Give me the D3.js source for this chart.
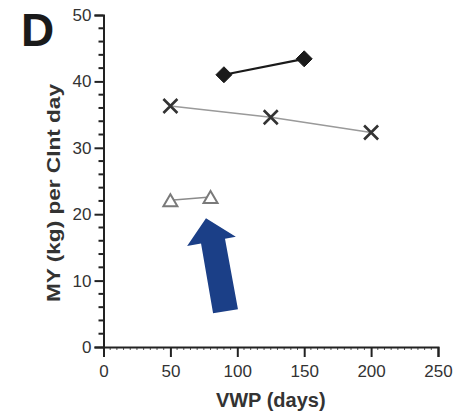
<!DOCTYPE html>
<html>
<head>
<meta charset="utf-8">
<script src="https://cdn.jsdelivr.net/npm/d3@7"></script>
<style>
  html, body { margin: 0; padding: 0; background: white; }
  text { font-family: "Liberation Sans", Arial, sans-serif; }
</style>
</head>
<body>
<div id="chart"></div>
<script>
// values
const diamondVwp = [90, 150];
const diamondMy = [41.0, 43.4];
const crossVwp = [50, 125, 200];
const crossMy = [36.3, 34.6, 32.3];
const triangleVwp = [50, 80];
const triangleMy = [22.1, 22.6];
const xTicks = [0, 50, 100, 150, 200, 250];
const yTicks = [0, 10, 20, 30, 40, 50];
// annotation arrow outline, in data units
const arrowVwp = [76.6, 98.9, 90.8, 100.5, 81.9, 72.9, 62.5];
const arrowMy = [19.4, 16.6, 16.3, 5.7, 5.1, 15.6, 15.2];

const width = 462;
const height = 413;

const svg = d3.select("#chart")
  .append("svg")
  .attr("width", width)
  .attr("height", height)
  .style("background", "white");

const x = d3.scaleLinear().domain([0, 250]).range([103.5, 438]);
const y = d3.scaleLinear().domain([0, 50]).range([347, 15]);

// custom symbols, drawn at a size similar to the figure
const diamondSym = {
  draw(ctx, size) {
    const r = Math.sqrt(size) / 2;
    ctx.moveTo(0, -r); ctx.lineTo(r, 0); ctx.lineTo(0, r); ctx.lineTo(-r, 0); ctx.closePath();
  }
};
const timesSym = {
  draw(ctx, size) {
    const r = Math.sqrt(size) / 2;
    ctx.moveTo(-r, -r); ctx.lineTo(r, r);
    ctx.moveTo(-r, r); ctx.lineTo(r, -r);
  }
};
const triangleSym = {
  draw(ctx, size) {
    const w = Math.sqrt(size) / 2;
    const h = w * 0.85;
    ctx.moveTo(0, -h); ctx.lineTo(w, h); ctx.lineTo(-w, h); ctx.closePath();
  }
};

// y axis
const yAxis = svg.append("g").attr("transform", `translate(${x(0)},0)`);
yAxis.call(d3.axisLeft(y).tickValues(yTicks).tickSize(9).tickPadding(3))
  .call(g => g.select(".domain").attr("stroke", "#222").attr("stroke-width", 2))
  .call(g => g.selectAll(".tick line").attr("stroke", "#222").attr("stroke-width", 2))
  .call(g => g.selectAll(".tick text")
    .attr("font-size", 17).attr("fill", "#333")
    .attr("font-family", "Liberation Sans, Arial, sans-serif"));
yAxis.selectAll(".minor")
  .data(d3.range(0, 51, 2).filter(v => v % 10 !== 0))
  .enter()
  .append("line")
    .attr("class", "minor")
    .attr("x1", -5).attr("x2", 0)
    .attr("y1", d => y(d)).attr("y2", d => y(d))
    .attr("stroke", "#222")
    .attr("stroke-width", 2);

// x axis
const xAxis = svg.append("g").attr("transform", `translate(0,${y(0)})`);
xAxis.selectAll(".minor")
  .data(d3.range(0, 251, 5).filter(v => v % 50 !== 0))
  .enter()
  .append("line")
    .attr("class", "minor")
    .attr("x1", d => x(d)).attr("x2", d => x(d))
    .attr("y1", 0).attr("y2", 3)
    .attr("stroke", "#555")
    .attr("stroke-width", 1);
xAxis.call(d3.axisBottom(x).tickValues(xTicks).tickSize(10).tickPadding(8))
  .call(g => g.select(".domain").attr("stroke", "#222").attr("stroke-width", 2))
  .call(g => g.selectAll(".tick line").attr("stroke", "#222").attr("stroke-width", 2))
  .call(g => g.selectAll(".tick text")
    .attr("font-size", 17).attr("fill", "#333")
    .attr("font-family", "Liberation Sans, Arial, sans-serif"));

// series
const series = [
  { xs: triangleVwp, ys: triangleMy, line: "#8a8a8a", lw: 1.6, sym: triangleSym, size: 196, fill: "white", stroke: "#7a7a7a", sw: 2 },
  { xs: crossVwp, ys: crossMy, line: "#9a9a9a", lw: 1.6, sym: timesSym, size: 196, fill: "none", stroke: "#333", sw: 2.6 },
  { xs: diamondVwp, ys: diamondMy, line: "#1a1a1a", lw: 2.2, sym: diamondSym, size: 256, fill: "#1a1a1a", stroke: "#1a1a1a", sw: 1 }
];

const line = d3.line().x(d => x(d[0])).y(d => y(d[1]));

series.forEach(s => {
  const pts = s.xs.map((v, i) => [v, s.ys[i]]);
  svg.append("path")
    .datum(pts)
    .attr("d", line)
    .attr("fill", "none")
    .attr("stroke", s.line)
    .attr("stroke-width", s.lw);
  svg.selectAll(null)
    .data(pts)
    .enter()
    .append("path")
      .attr("transform", d => `translate(${x(d[0])},${y(d[1])})`)
      .attr("d", d3.symbol().type(s.sym).size(s.size))
      .attr("fill", s.fill)
      .attr("stroke", s.stroke)
      .attr("stroke-width", s.sw);
});

// arrow annotation
svg.append("path")
  .datum(arrowVwp.map((v, i) => [v, arrowMy[i]]))
  .attr("d", d => line(d) + "Z")
  .attr("fill", "#1b3f87");

// titles
svg.append("text")
  .attr("x", x(125))
  .attr("y", 407)
  .attr("text-anchor", "middle")
  .attr("font-size", 20)
  .attr("font-weight", "bold")
  .attr("fill", "#333")
  .text("VWP (days)");

svg.append("text")
  .attr("transform", `translate(60,193) rotate(-90)`)
  .attr("text-anchor", "middle")
  .attr("font-size", 18)
  .attr("font-weight", "bold")
  .attr("fill", "#333")
  .attr("textLength", 218)
  .attr("lengthAdjust", "spacingAndGlyphs")
  .text("MY (kg) per CInt day");

svg.append("text")
  .attr("x", 21)
  .attr("y", 46)
  .attr("font-size", 46)
  .attr("font-weight", "bold")
  .attr("fill", "#1a1a1a")
  .text("D");
</script>
</body>
</html>
